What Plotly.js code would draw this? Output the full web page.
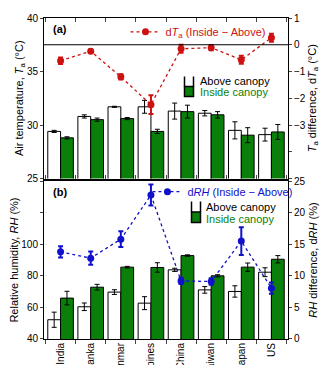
<!DOCTYPE html>
<html>
<head>
<meta charset="utf-8">
<script src="https://cdn.plot.ly/plotly-3.0.1.min.js"></script>
<style>html,body{margin:0;padding:0;background:#fff;overflow:hidden;}#chart{width:320px;height:365px;}</style>
</head>
<body>
<div id="chart"></div>
<script>
const countries = ['India','Sri Lanka','Myanmar','Philippines','China','Taiwan','Japan','US'];
const taAbove = [29.4, 30.8, 31.7, 31.7, 31.3, 31.1, 29.5, 29.1];
const taAboveErr = [0.1, 0.15, 0.05, 0.6, 0.75, 0.25, 0.8, 0.6];
const taInside = [28.8, 30.5, 30.6, 29.4, 31.25, 30.95, 29.05, 29.35];
const taInsideErr = [0.1, 0.15, 0.1, 0.2, 0.6, 0.3, 0.7, 0.7];
const dTa = [-0.6, -0.24, -1.2, -2.24, -0.15, -0.11, -0.56, 0.26];
const dTaErr = [0.12, 0.06, 0.1, 0.35, 0.15, 0.1, 0.15, 0.15];
const rhAbove = [52.2, 60.4, 69.7, 62.7, 83.8, 71.1, 70.1, 82.3];
const rhAboveErr = [4.8, 2.4, 1.5, 4.1, 1.0, 2.1, 3.6, 2.8];
const rhInside = [65.9, 72.8, 85.5, 85.3, 92.8, 80.0, 85.5, 90.5];
const rhInsideErr = [4.3, 1.8, 0.5, 3.0, 0.5, 0.7, 2.6, 2.3];
const dRH = [13.8, 12.8, 15.8, 22.8, 9.2, 9.1, 15.5, 8.05];
const dRHErr = [0.9, 1.05, 1.25, 1.65, 0.5, 0.5, 2.2, 0.9];
const taRightTicks = [-5, -4, -3, -2, -1, 0, 1];
const taRightLabels = ['', '', '−3', '−2', '−1', '0', '1'];
const rhLeftTicks = [40, 60, 80, 100, 120, 140];
const rhLeftLabels = ['40', '60', '80', '100', '', ''];
const barLegendNames = ['Above canopy', 'Inside canopy'];

const GREEN = '#0a800a';
const RED = '#cc1111';
const BLUE = '#1111cc';
const barErr = (arr) => ({type:'data', array:arr, visible:true, color:'#000', thickness:1, width:2.5});

const traces = [
  {type:'bar', x:countries, y:taAbove, xaxis:'x', yaxis:'y', name:barLegendNames[0], showlegend:false,
   marker:{color:'#fff', line:{color:'#000', width:1}}, error_y:barErr(taAboveErr)},
  {type:'bar', x:countries, y:taInside, xaxis:'x', yaxis:'y', name:barLegendNames[1], showlegend:false,
   marker:{color:GREEN, line:{color:'#000', width:1}}, error_y:barErr(taInsideErr)},
  {type:'scatter', mode:'lines+markers', x:countries, y:dTa, xaxis:'x', yaxis:'y2', name:'d<i>T</i><sub>a</sub> (Inside − Above)', legend:'legend', showlegend:true,
   line:{color:RED, width:1.3, dash:'3px,3px'}, marker:{color:RED, size:7},
   error_y:{type:'data', array:dTaErr, visible:true, color:RED, thickness:2, width:2.5}},
  {type:'bar', x:countries, y:rhAbove, xaxis:'x2', yaxis:'y3', name:barLegendNames[0], showlegend:false,
   marker:{color:'#fff', line:{color:'#000', width:1}}, error_y:barErr(rhAboveErr)},
  {type:'bar', x:countries, y:rhInside, xaxis:'x2', yaxis:'y3', name:barLegendNames[1], showlegend:false,
   marker:{color:GREEN, line:{color:'#000', width:1}}, error_y:barErr(rhInsideErr)},
  {type:'scatter', mode:'lines+markers', x:countries, y:dRH, xaxis:'x2', yaxis:'y4', name:'d<i>RH</i> (Inside − Above)', legend:'legend3', showlegend:true,
   line:{color:BLUE, width:1.3, dash:'3px,3px'}, marker:{color:BLUE, size:7},
   error_y:{type:'data', array:dRHErr, visible:true, color:BLUE, thickness:2, width:2.5}}
];

// plot-area pixel -> paper coordinate helpers (for legend keys)
const PL = 44, PT = 18, PW = 244, PH = 321;
const px = v => (v - PL) / PW;
const py = v => (PT + PH - v) / PH;

function barKey(x0, x1, yTop, yMid, yBot, textX, yText1, yText2) {
  const shapes = [
    {type:'rect', xref:'paper', yref:'paper', x0:px(x0), x1:px(x1), y0:py(yTop), y1:py(yMid), fillcolor:'#fff', line:{width:0}},
    {type:'path', xref:'paper', yref:'paper', path:`M ${px(x0)},${py(yTop)} L ${px(x0)},${py(yMid)} M ${px(x1)},${py(yTop)} L ${px(x1)},${py(yMid)}`, line:{color:'#000', width:1.5}},
    {type:'rect', xref:'paper', yref:'paper', x0:px(x0), x1:px(x1), y0:py(yMid), y1:py(yBot), fillcolor:GREEN, line:{color:'#000', width:1.5}}
  ];
  const annots = [
    {xref:'paper', yref:'paper', x:px(textX), y:py(yText1), xanchor:'left', yanchor:'middle', text:barLegendNames[0], showarrow:false, font:{size:11, color:'#000'}},
    {xref:'paper', yref:'paper', x:px(textX), y:py(yText2), xanchor:'left', yanchor:'middle', text:barLegendNames[1], showarrow:false, font:{size:11, color:GREEN}}
  ];
  return {shapes, annots};
}
const keyA = barKey(184.5, 193.5, 76.5, 86.5, 96.5, 198, 81.5, 92.5);
const keyB = barKey(191.5, 200.5, 201.5, 212, 222.5, 204, 206.5, 218.5);

const axLine = {showline:true, linecolor:'#000', linewidth:1, showgrid:false, zeroline:false};
const tf = {size:10, color:'#000'};
const layout = {
  width:320, height:365,
  margin:{l:44, r:32, t:18, b:26},
  paper_bgcolor:'#fff', plot_bgcolor:'#fff',
  font:{family:'Liberation Sans, Arial, sans-serif', size:10, color:'#000'},
  showlegend:true,
  barmode:'group', bargap:0.15, bargroupgap:0,
  xaxis:Object.assign({}, axLine, {domain:[0,1], anchor:'y', type:'category', showticklabels:false,
    ticks:'inside', tickson:'boundaries', ticklen:4, mirror:'ticks'}),
  yaxis:Object.assign({}, axLine, {domain:[0.5,1], anchor:'x', range:[25,40], dtick:5, ticks:'outside', ticklen:3, mirror:true,
    tickfont:tf, title:{text:'Air temperature, <i>T</i><sub>a</sub> (°C)', font:{size:11}, standoff:0}}),
  yaxis2:Object.assign({}, axLine, {overlaying:'y', side:'right', anchor:'x', range:[-5,1],
    tickvals:taRightTicks, ticktext:taRightLabels, ticks:'outside', ticklen:3, tickfont:tf,
    title:{text:'<i>T</i><sub>a</sub> difference, d<i>T</i><sub>a</sub> (°C)', font:{size:11}, standoff:4}}),
  xaxis2:Object.assign({}, axLine, {domain:[0,1], anchor:'y3', type:'category', tickangle:-90,
    ticks:'outside', tickson:'boundaries', ticklen:4, mirror:true, ticklabelstandoff:-1, tickfont:{size:10, color:'#000'}}),
  yaxis3:Object.assign({}, axLine, {domain:[0,0.492], anchor:'x2', range:[40,140], tickvals:rhLeftTicks, ticktext:rhLeftLabels,
    ticks:'outside', ticklen:3, mirror:true, tickfont:tf,
    title:{text:'Relative humidity, <i>RH</i> (%)', font:{size:11}, standoff:0}}),
  yaxis4:Object.assign({}, axLine, {overlaying:'y3', side:'right', anchor:'x2', range:[0,25], dtick:5,
    ticks:'outside', ticklen:3, tickfont:tf,
    title:{text:'<i>RH</i> difference, d<i>RH</i> (%)', font:{size:11}, standoff:4}}),
  legend:{x:0.334, y:0.957, xanchor:'left', yanchor:'middle', bgcolor:'rgba(0,0,0,0)', font:{size:11, color:RED}},
  legend3:{x:0.424, y:0.459, xanchor:'left', yanchor:'middle', bgcolor:'rgba(0,0,0,0)', font:{size:11, color:BLUE}},
  shapes:[{type:'line', xref:'x domain', yref:'y2', x0:0, x1:1, y0:0, y1:0, line:{color:'#000', width:1}}]
    .concat(keyA.shapes, keyB.shapes),
  annotations:[
    {xref:'paper', yref:'paper', x:0.03, y:0.965, xanchor:'left', yanchor:'middle', text:'<b>(a)</b>', showarrow:false, font:{size:11}},
    {xref:'paper', yref:'paper', x:0.03, y:0.458, xanchor:'left', yanchor:'middle', text:'<b>(b)</b>', showarrow:false, font:{size:11}}
  ].concat(keyA.annots, keyB.annots)
};
Plotly.newPlot('chart', traces, layout, {displayModeBar:false, staticPlot:true});
</script>
</body>
</html>
